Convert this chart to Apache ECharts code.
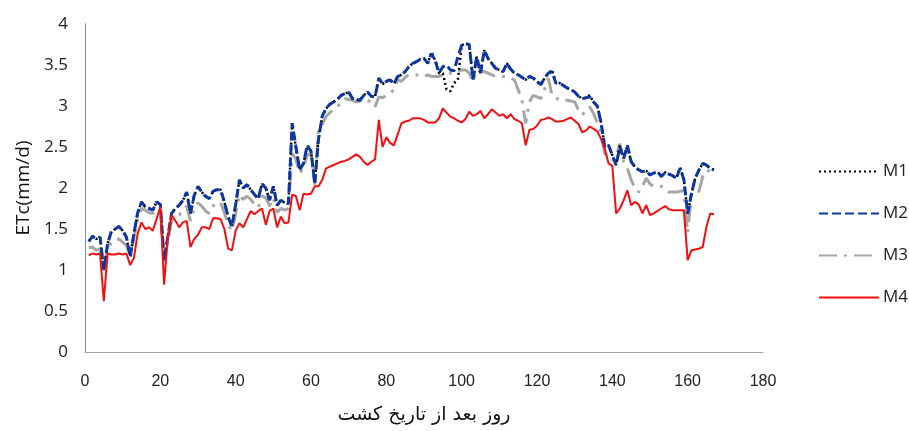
<!DOCTYPE html>
<html>
<head>
<meta charset="utf-8">
<script src="https://cdn.jsdelivr.net/npm/echarts@6/dist/echarts.min.js"></script>
<style>html,body{margin:0;padding:0;background:#fff}#c{width:909px;height:431px}</style>
</head>
<body>
<div id="c"></div>
<script>
// Day after planting starts at 1 (one value per day)
const firstDay = 1;
const xTicks = [0, 20, 40, 60, 80, 100, 120, 140, 160, 180];
const yTicks = [0, 0.5, 1, 1.5, 2, 2.5, 3, 3.5, 4];
const seriesNames = ['M1', 'M2', 'M3', 'M4'];

const M2 = [1.35,1.41,1.38,1.40,1.00,1.32,1.47,1.50,1.53,1.48,1.40,1.16,1.45,1.70,1.83,1.77,1.75,1.73,1.83,1.80,
1.12,1.41,1.69,1.75,1.79,1.85,1.95,1.69,1.91,2.02,1.95,1.90,1.87,1.96,1.98,1.98,1.83,1.65,1.53,1.80,
2.10,2.00,2.04,1.98,1.92,1.87,2.05,2.00,1.85,2.02,1.79,1.85,1.82,1.81,2.79,2.50,2.22,2.30,2.52,2.45,
2.06,2.60,2.88,2.97,3.02,3.05,3.08,3.13,3.15,3.17,3.09,3.08,3.07,3.13,3.17,3.12,3.11,3.34,3.27,3.30,
3.32,3.27,3.36,3.38,3.42,3.48,3.52,3.54,3.57,3.58,3.52,3.64,3.55,3.40,3.48,3.50,3.44,3.43,3.60,3.74,
3.76,3.75,3.32,3.60,3.40,3.68,3.58,3.52,3.46,3.44,3.42,3.52,3.45,3.40,3.38,3.35,3.32,3.36,3.34,3.30,
3.26,3.34,3.40,3.42,3.28,3.28,3.25,3.22,3.20,3.17,3.12,3.09,3.10,3.11,3.05,3.00,2.80,2.50,2.52,2.40,
2.28,2.50,2.36,2.52,2.32,2.26,2.22,2.20,2.21,2.16,2.18,2.20,2.14,2.19,2.17,2.15,2.12,2.24,2.10,1.69,
1.93,2.12,2.22,2.30,2.28,2.24,2.22];

const M1 = [1.35,1.41,1.38,1.40,1.00,1.32,1.47,1.50,1.53,1.48,1.40,1.16,1.45,1.70,1.83,1.77,1.75,1.73,1.83,1.80,
1.12,1.41,1.69,1.75,1.79,1.85,1.95,1.69,1.91,2.02,1.95,1.90,1.87,1.96,1.98,1.98,1.83,1.65,1.53,1.80,
2.10,2.00,2.04,1.98,1.92,1.87,2.05,2.00,1.85,2.02,1.79,1.85,1.82,1.81,2.79,2.50,2.22,2.30,2.52,2.45,
2.06,2.60,2.88,2.97,3.02,3.05,3.08,3.13,3.15,3.17,3.09,3.08,3.07,3.13,3.17,3.12,3.11,3.34,3.27,3.30,
3.32,3.27,3.36,3.38,3.42,3.48,3.52,3.54,3.57,3.58,3.52,3.66,3.55,3.40,3.40,3.20,3.18,3.28,3.32,3.74,
3.76,3.75,3.32,3.60,3.40,3.68,3.58,3.52,3.46,3.44,3.42,3.52,3.45,3.40,3.38,3.35,3.32,3.36,3.34,3.30,
3.26,3.34,3.40,3.44,3.28,3.28,3.25,3.22,3.20,3.17,3.12,3.09,3.10,3.13,3.05,3.00,2.80,2.50,2.52,2.40,
2.28,2.52,2.36,2.52,2.32,2.26,2.22,2.20,2.21,2.16,2.18,2.20,2.14,2.19,2.17,2.15,2.12,2.25,2.10,1.69,
1.93,2.12,2.22,2.30,2.28,2.24,2.22];

const M3 = [1.27,1.28,1.24,1.26,1.00,1.25,1.34,1.36,1.38,1.34,1.30,1.16,1.40,1.62,1.75,1.73,1.70,1.69,1.75,1.74,
1.10,1.35,1.60,1.65,1.67,1.72,1.78,1.60,1.75,1.82,1.78,1.72,1.69,1.78,1.82,1.82,1.70,1.55,1.48,1.68,
1.92,1.86,1.90,1.86,1.80,1.76,1.90,1.88,1.78,1.88,1.70,1.75,1.73,1.75,2.42,2.35,2.18,2.25,2.40,2.42,
2.04,2.71,2.78,2.87,2.92,2.96,2.99,3.05,3.09,3.08,3.07,3.05,3.06,3.09,3.07,3.05,2.99,3.11,3.10,3.13,
3.15,3.20,3.32,3.30,3.35,3.38,3.38,3.38,3.36,3.36,3.38,3.36,3.36,3.36,3.38,3.40,3.40,3.40,3.42,3.44,
3.44,3.40,3.30,3.44,3.42,3.42,3.40,3.38,3.36,3.36,3.36,3.36,3.34,3.32,3.20,3.07,2.79,3.05,3.13,3.11,
3.09,3.20,3.34,3.13,3.10,3.07,3.07,3.07,3.06,3.05,2.95,2.89,2.95,2.99,2.91,2.80,2.65,2.42,2.38,2.34,
2.38,2.54,2.32,2.24,2.10,2.00,1.95,2.02,2.12,2.05,2.02,2.02,2.02,2.00,1.95,1.95,1.95,1.96,1.97,1.45,
1.93,1.95,1.96,2.14,2.22,2.20,2.18];

const M4 = [1.18,1.20,1.19,1.20,0.62,1.20,1.19,1.19,1.20,1.19,1.20,1.06,1.15,1.45,1.58,1.50,1.52,1.48,1.62,1.77,
0.82,1.40,1.67,1.60,1.52,1.58,1.60,1.28,1.38,1.43,1.52,1.52,1.50,1.63,1.63,1.62,1.50,1.26,1.24,1.48,
1.57,1.52,1.62,1.72,1.68,1.72,1.75,1.55,1.72,1.75,1.52,1.65,1.57,1.58,1.92,1.90,1.73,1.93,1.92,1.93,
2.02,2.02,2.10,2.24,2.26,2.28,2.30,2.32,2.33,2.35,2.38,2.41,2.38,2.32,2.28,2.32,2.35,2.83,2.50,2.62,
2.55,2.52,2.65,2.79,2.81,2.82,2.85,2.85,2.85,2.83,2.80,2.80,2.80,2.85,2.97,2.92,2.87,2.85,2.82,2.80,
2.84,2.93,2.88,2.90,2.94,2.85,2.90,2.96,2.92,2.88,2.90,2.85,2.90,2.84,2.82,2.79,2.52,2.71,2.72,2.76,
2.83,2.84,2.86,2.84,2.81,2.81,2.82,2.84,2.86,2.82,2.78,2.68,2.70,2.75,2.72,2.69,2.60,2.48,2.30,2.27,
1.69,1.75,1.85,1.97,1.79,1.83,1.80,1.69,1.79,1.67,1.69,1.72,1.75,1.78,1.74,1.73,1.73,1.73,1.73,1.12,
1.24,1.25,1.26,1.28,1.53,1.69,1.68];

const toPairs = arr => arr.map((v, i) => [firstDay + i, v]);

const chart = echarts.init(document.getElementById('c'), null, {renderer: 'canvas'});
const tickFont = '"Liberation Sans Narrow", "Liberation Sans", Arial, sans-serif';
const yFont = '"Open Sans", "Liberation Sans", sans-serif';

chart.setOption({
  animation: false,
  backgroundColor: '#fff',
  grid: {left: 85, right: 146, top: 24, bottom: 79, containLabel: false},
  legend: {
    orient: 'vertical',
    left: 813,
    top: 158,
    itemWidth: 60,
    itemHeight: 14,
    itemGap: 25,
    itemStyle: {opacity: 0},
    textStyle: {fontFamily: yFont, fontSize: 17, color: '#222', padding: [0, 0, 0, -1]},
    data: seriesNames
  },
  xAxis: [{
    type: 'value', min: xTicks[0], max: xTicks[xTicks.length - 1], interval: 20,
    axisLine: {show: false}, axisTick: {show: false}, splitLine: {show: false},
    axisLabel: {fontFamily: tickFont, fontSize: 16, color: '#222', margin: 22},
    name: 'روز بعد از تاریخ کشت', nameLocation: 'middle', nameGap: 54,
    nameTextStyle: {fontFamily: '"DejaVu Sans", sans-serif', fontSize: 19, color: '#111'}
  }, {
    type: 'value', position: 'top', min: 0, max: 180, interval: 20,
    axisLine: {show: true, lineStyle: {color: '#a0a0a0', width: 1}},
    axisTick: {show: false}, axisLabel: {show: false}, splitLine: {show: false}
  }],
  yAxis: [{
    type: 'value', min: yTicks[0], max: yTicks[yTicks.length - 1], interval: 0.5,
    axisLine: {show: true, lineStyle: {color: '#bdbdbd', width: 1}},
    axisTick: {show: false}, splitLine: {show: false},
    axisLabel: {fontFamily: yFont, fontSize: 17, color: '#222', margin: 17},
    name: 'ETc(mm/d)', nameLocation: 'middle', nameGap: 52, nameRotate: 90,
    nameTextStyle: {fontFamily: yFont, fontSize: 19, color: '#111'}
  }, {
    type: 'value', position: 'right', min: 0, max: 4, interval: 0.5,
    axisLine: {show: true, lineStyle: {color: '#8c8c8c', width: 1}},
    axisTick: {show: false}, axisLabel: {show: false}, splitLine: {show: false}
  }],
  series: [
    {name: 'M1', type: 'line', data: toPairs(M1), symbol: 'none', z: 3,
     lineStyle: {color: '#000', width: 2.5, type: [2, 3]}, itemStyle: {color: '#000'}},
    {name: 'M2', type: 'line', data: toPairs(M2), symbol: 'none', z: 4,
     lineStyle: {color: '#0b36a3', width: 3, type: [9, 4]}, itemStyle: {color: '#0b36a3'}},
    {name: 'M3', type: 'line', data: toPairs(M3), symbol: 'none', z: 2,
     lineStyle: {color: '#a6a6a6', width: 3, type: [18, 7, 3, 7]}, itemStyle: {color: '#a6a6a6'}},
    {name: 'M4', type: 'line', data: toPairs(M4), symbol: 'none', z: 5,
     lineStyle: {color: '#f01010', width: 2}, itemStyle: {color: '#f01010'}}
  ]
});
</script>
</body>
</html>
